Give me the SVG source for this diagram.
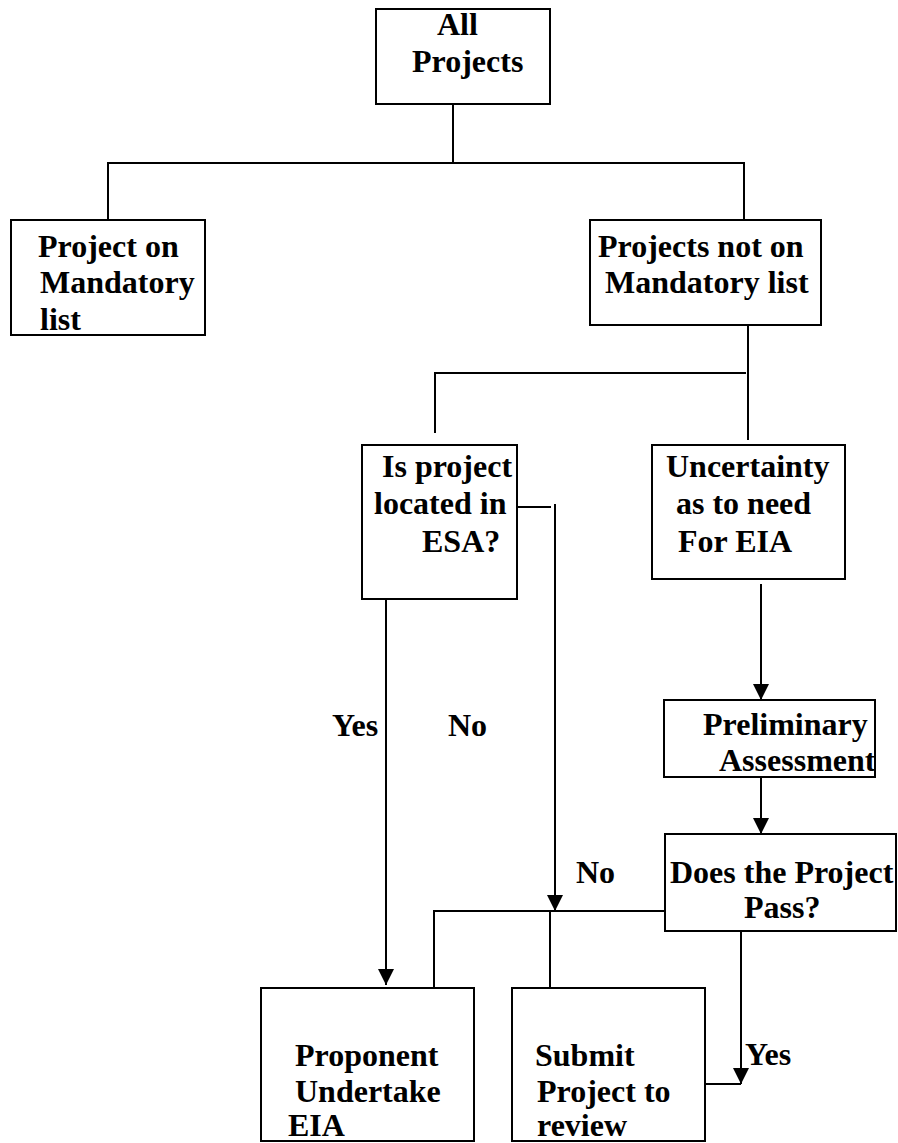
<svg xmlns="http://www.w3.org/2000/svg" width="898" height="1143" viewBox="0 0 898 1143">
<style>
.box{fill:#fff;stroke:#000;stroke-width:2}
.t{font-family:"Liberation Serif","Times New Roman",serif;font-weight:bold;font-size:32px;fill:#000}
.c{fill:none;stroke:#000;stroke-width:2}
</style>
<defs>
<marker id="ah" markerUnits="userSpaceOnUse" markerWidth="16" markerHeight="16" refX="16" refY="8" orient="auto" viewBox="0 0 16 16">
<path d="M0,0 L16,8 L0,16 Z" fill="#000"/>
</marker>
</defs>
<rect width="898" height="1143" fill="#fff"/>
<g id="connectors">
<path class="c" d="M453,104 V163"/>
<path class="c" d="M108,220 V163 H744 V220"/>
<path class="c" d="M748,325 V440"/>
<path class="c" d="M746,373 H435 V433"/>
<path class="c" d="M386,599 V985" marker-end="url(#ah)"/>
<path class="c" d="M511,507 H551"/>
<path class="c" d="M555,504 V911" marker-end="url(#ah)"/>
<path class="c" d="M761,584 V700" marker-end="url(#ah)"/>
<path class="c" d="M761,777 V834" marker-end="url(#ah)"/>
<path class="c" d="M665,911 H434 V988"/>
<path class="c" d="M550,911 V988"/>
<path class="c" d="M741,931 V1084" marker-end="url(#ah)"/>
<path class="c" d="M705,1084 H741"/>
</g>
<g id="n-all">
<rect class="box" x="376" y="9" width="174" height="95"/>
<text class="t" x="437" y="35">All</text>
<text class="t" x="412" y="72">Projects</text>
</g>
<g id="n-mandatory">
<rect class="box" x="11" y="220" width="194" height="115"/>
<text class="t" x="38" y="257">Project on</text>
<text class="t" x="40" y="293">Mandatory</text>
<text class="t" x="40" y="330">list</text>
</g>
<g id="n-notmandatory">
<rect class="box" x="590" y="220" width="231" height="105"/>
<text class="t" x="598" y="257">Projects not on</text>
<text class="t" x="605" y="293">Mandatory list</text>
</g>
<g id="n-esa">
<rect class="box" x="362" y="445" width="155" height="154"/>
<text class="t" x="382" y="477">Is project</text>
<text class="t" x="374" y="514">located in</text>
<text class="t" x="422" y="552">ESA?</text>
</g>
<g id="n-uncertainty">
<rect class="box" x="652" y="445" width="193" height="134"/>
<text class="t" x="666" y="477">Uncertainty</text>
<text class="t" x="676" y="514">as to need</text>
<text class="t" x="678" y="552">For EIA</text>
</g>
<g id="n-preliminary">
<rect class="box" x="664" y="700" width="211" height="77"/>
<text class="t" x="703" y="735">Preliminary</text>
<text class="t" x="719" y="771">Assessment</text>
</g>
<g id="n-pass">
<rect class="box" x="665" y="834" width="231" height="97"/>
<text class="t" x="670" y="883">Does the Project</text>
<text class="t" x="744" y="918">Pass?</text>
</g>
<g id="n-proponent">
<rect class="box" x="261" y="988" width="213" height="153"/>
<text class="t" x="295" y="1066">Proponent</text>
<text class="t" x="295" y="1102">Undertake</text>
<text class="t" x="288" y="1136">EIA</text>
</g>
<g id="n-submit">
<rect class="box" x="512" y="988" width="193" height="153"/>
<text class="t" x="535" y="1066">Submit</text>
<text class="t" x="537" y="1102">Project to</text>
<text class="t" x="537" y="1136">review</text>
</g>
<g id="labels">
<text class="t" x="332" y="736">Yes</text>
<text class="t" x="448" y="736">No</text>
<text class="t" x="576" y="883">No</text>
<text class="t" x="745" y="1065">Yes</text>
</g>
</svg>
